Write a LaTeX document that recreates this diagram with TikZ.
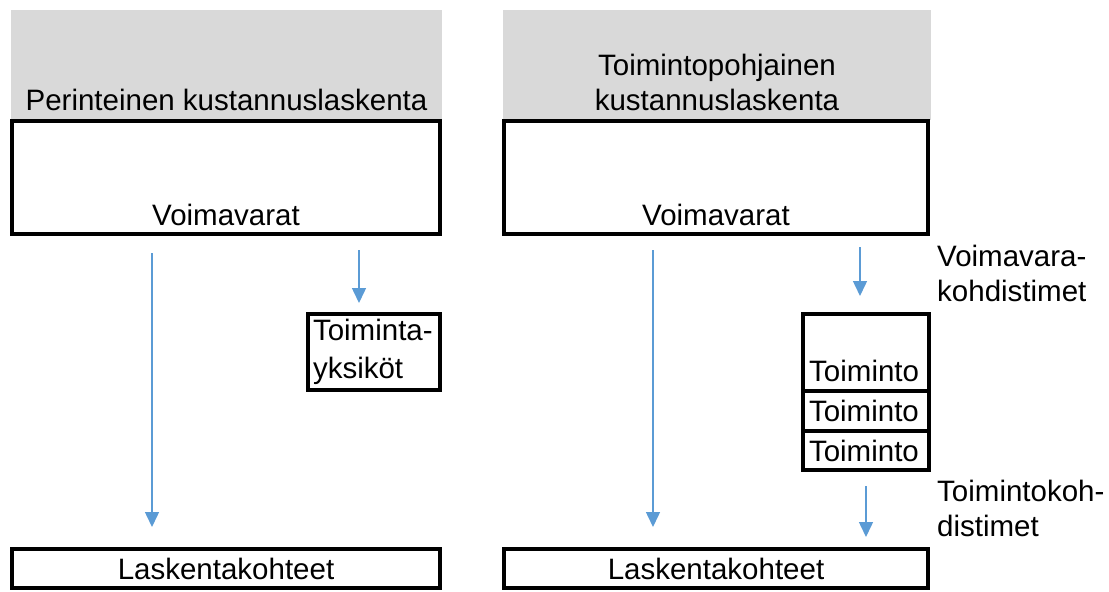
\documentclass[tikz,border=0pt]{standalone}
\usepackage{fontspec}
\setmainfont{Liberation Sans}
\usetikzlibrary{positioning,calc,arrows.meta}
\definecolor{headgray}{HTML}{D9D9D9}
\definecolor{flowblue}{HTML}{5B9BD5}

\begin{document}
\begin{tikzpicture}[x=1pt, y=-1pt,
  every node/.style={font=\fontsize{29.5}{35}\selectfont},
  head/.style={fill=headgray, minimum height=110pt, inner sep=0pt},
  box/.style={draw, line width=4pt, outer sep=0pt, inner sep=0pt},
  lbl/.style={inner sep=0pt},
  flow/.style={color=flowblue, line width=1.5pt, -{Triangle[width=14pt,length=15pt]}}]
\useasboundingbox (0,0) rectangle (1109,592);

% headers
\node[head, minimum width=431pt] (h1) at (226.5,65) {};
\node[head, minimum width=428pt] (h2) at (717,65) {};
\node[lbl, anchor=south] (h1l) at ([yshift=9pt]h1.south) {Perinteinen kustannuslaskenta};
\node[lbl, anchor=south, align=center] (h2l) at ([yshift=9pt]h2.south) {Toimintopohjainen\\kustannuslaskenta};

% resources
\node[box, minimum width=428pt, minimum height=113pt] (r1) at (226,177.5) {};
\node[box, minimum width=424pt, minimum height=113pt] (r2) at (716,177.5) {};
\node[lbl, anchor=south] (r1l) at ([yshift=8pt]r1.south) {Voimavarat};
\node[lbl, anchor=south] (r2l) at ([yshift=8pt]r2.south) {Voimavarat};

% units / activities
\node[box, text width=122pt, inner xsep=5pt, align=left, minimum height=76pt,
  font=\fontsize{29.5}{38}\selectfont] (u1) at (374,352) {Toiminta-\\yksiköt};
\node[box, minimum width=126pt, minimum height=77pt] (t1) at (866,352.5) {};
\node[lbl, anchor=south west] (t1l) at ([xshift=6pt,yshift=9pt]t1.south west) {Toiminto};
\node[box, below=0pt of t1, text width=114pt, inner xsep=6pt, align=left, minimum height=40pt] (t2) {Toiminto};
\node[box, below=0pt of t2, text width=114pt, inner xsep=6pt, align=left, minimum height=39pt] (t3) {Toiminto};

% cost objects
\node[box, minimum width=428pt, minimum height=39pt] (o1) at (226,568.5) {Laskentakohteet};
\node[box, minimum width=424pt, minimum height=39pt] (o2) at (716,568.5) {Laskentakohteet};

% drivers
\node[lbl, anchor=south west, align=left] (d1) at (937,302) {Voimavara-\\kohdistimet};
\node[lbl, anchor=south west, align=left] (d2) at (937,537) {Toimintokoh-\\distimet};

\draw[flow] ($(r1.south)+(-74,19)$) -- ($(o1.north)+(-74,-22)$);
\draw[flow] ($(u1.north |- r1.south)+(-15,16)$) -- ($(u1.north)+(-15,-11)$);
\draw[flow] ($(r2.south)+(-63,16)$) -- ($(o2.north)+(-63,-22)$);
\draw[flow] ($(t1.north |- r2.south)+(-6,13)$) -- ($(t1.north)+(-6,-18)$);
\draw[flow] ($(t3.south)+(0,16)$) -- ($(t3.south |- o2.north)+(0,-12)$);
\end{tikzpicture}
\end{document}
